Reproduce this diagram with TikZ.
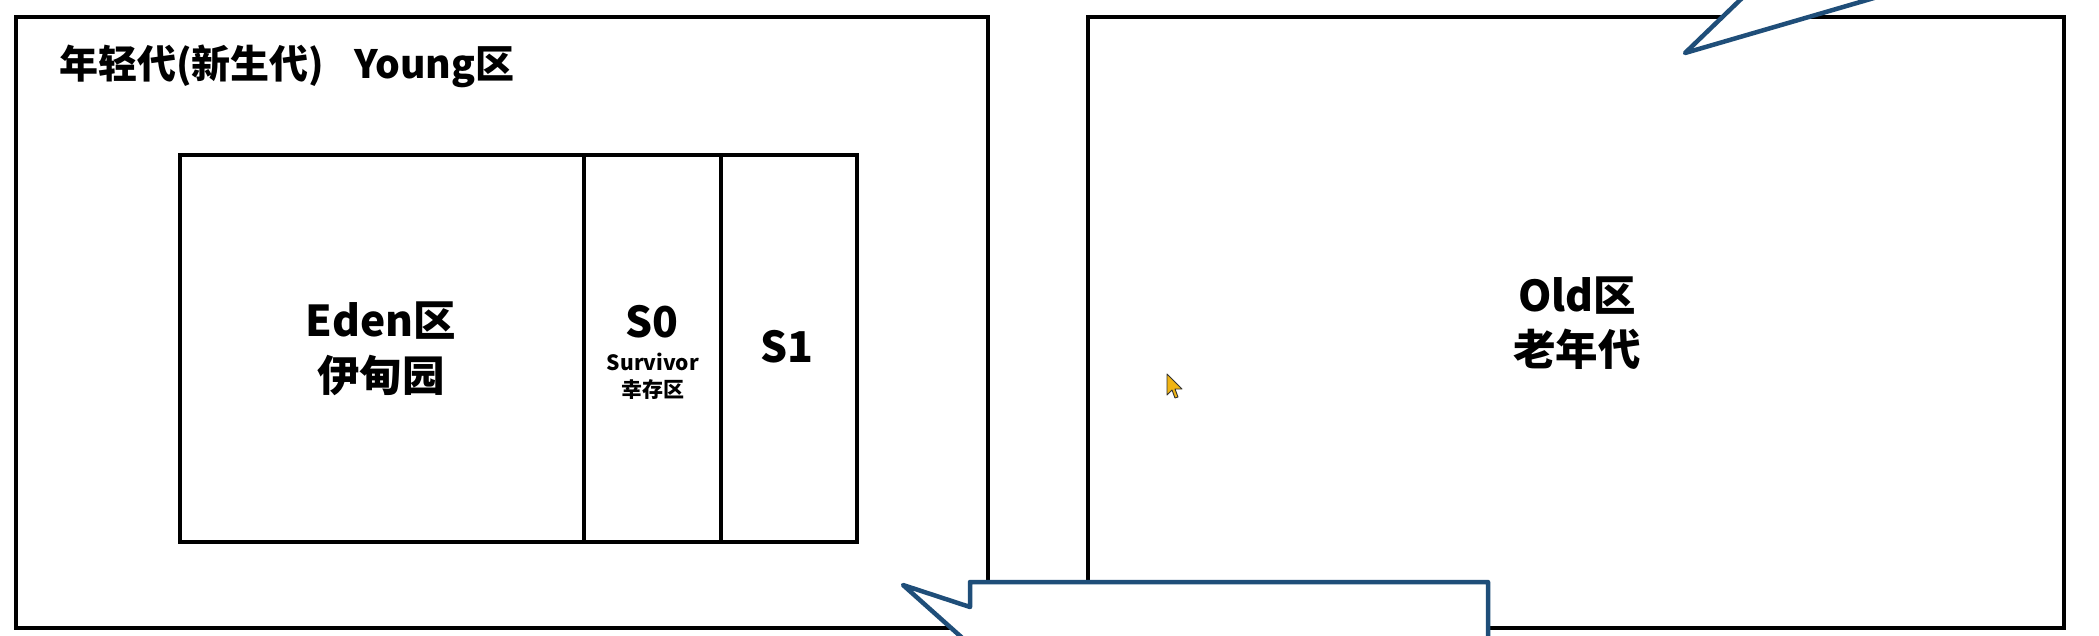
\documentclass[tikz,border=0pt]{standalone}
\usepackage{fontspec}
\setmainfont{Noto Sans CJK SC}
\definecolor{cblue}{RGB}{31,78,121}
\definecolor{cursory}{RGB}{240,180,20}
\begin{document}
\begin{tikzpicture}[x=1pt,y=-1pt,
  box/.style={draw=black,line width=4.5pt,fill=white,inner sep=0pt,outer sep=0pt},
  big/.style={font=\fontsize{42.5}{42.5}\selectfont\bfseries,inner sep=0pt},
  small/.style={font=\fontsize{21}{21}\selectfont\bfseries,inner sep=0pt},
  callout/.style={draw=cblue,line width=4.5pt,fill=white,line join=round}]
\useasboundingbox (0,0) rectangle (2099,635);
\fill[white] (0,0) rectangle (2099,635);
% young generation
\node[box,minimum width=972pt,minimum height=611pt] (young) at (502,322.5) {};
\node[anchor=west,inner sep=0pt,font=\fontsize{39}{39}\selectfont\bfseries] (ytitle) at (59,66) {年轻代(新生代)\hspace{30pt}Young区};
\node[box,minimum width=404pt,minimum height=387pt] (eden) at (382,348.5) {};
\node[box,minimum width=137pt,minimum height=387pt] (szero) at (652.5,348.5) {};
\node[box,minimum width=136pt,minimum height=387pt] (sone) at (789,348.5) {};
\node[big] (edenA) at (381,321) {Eden区};
\node[big] (edenB) at (381,375) {伊甸园};
\node[big] (szeroA) at (652,322) {S0};
\node[small] (szeroB) at (653,362) {Survivor};
\node[small] (szeroC) at (653,390) {幸存区};
\node[big] (soneA) at (787,347) {S1};
% old generation
\node[box,minimum width=976pt,minimum height=611pt] (old) at (1576,322.5) {};
\node[big] (oldA) at (1577,296) {Old区};
\node[big] (oldB) at (1577,349) {老年代};
% mouse cursor
\draw[fill=cursory,draw=black!80,line width=0.9pt,line join=round]
  (1167,374) -- (1167,395) -- (1172,390) -- (1175,398) -- (1178,397) -- (1175,389) -- (1182,389) -- cycle;
% callouts (clipped by picture border)
\begin{scope}
\clip (0,0) rectangle (2099,635);
\coordinate (ctipB) at (903,585);
\coordinate (ctipT) at (1685,53);
\draw[callout] (987,660) -- (ctipB) -- (970,607) -- (970,582) -- (1488,582) -- (1488,660);
\draw[callout] (1766,-25) -- (ctipT) -- (1953,-25);
\end{scope}
\end{tikzpicture}
\end{document}
